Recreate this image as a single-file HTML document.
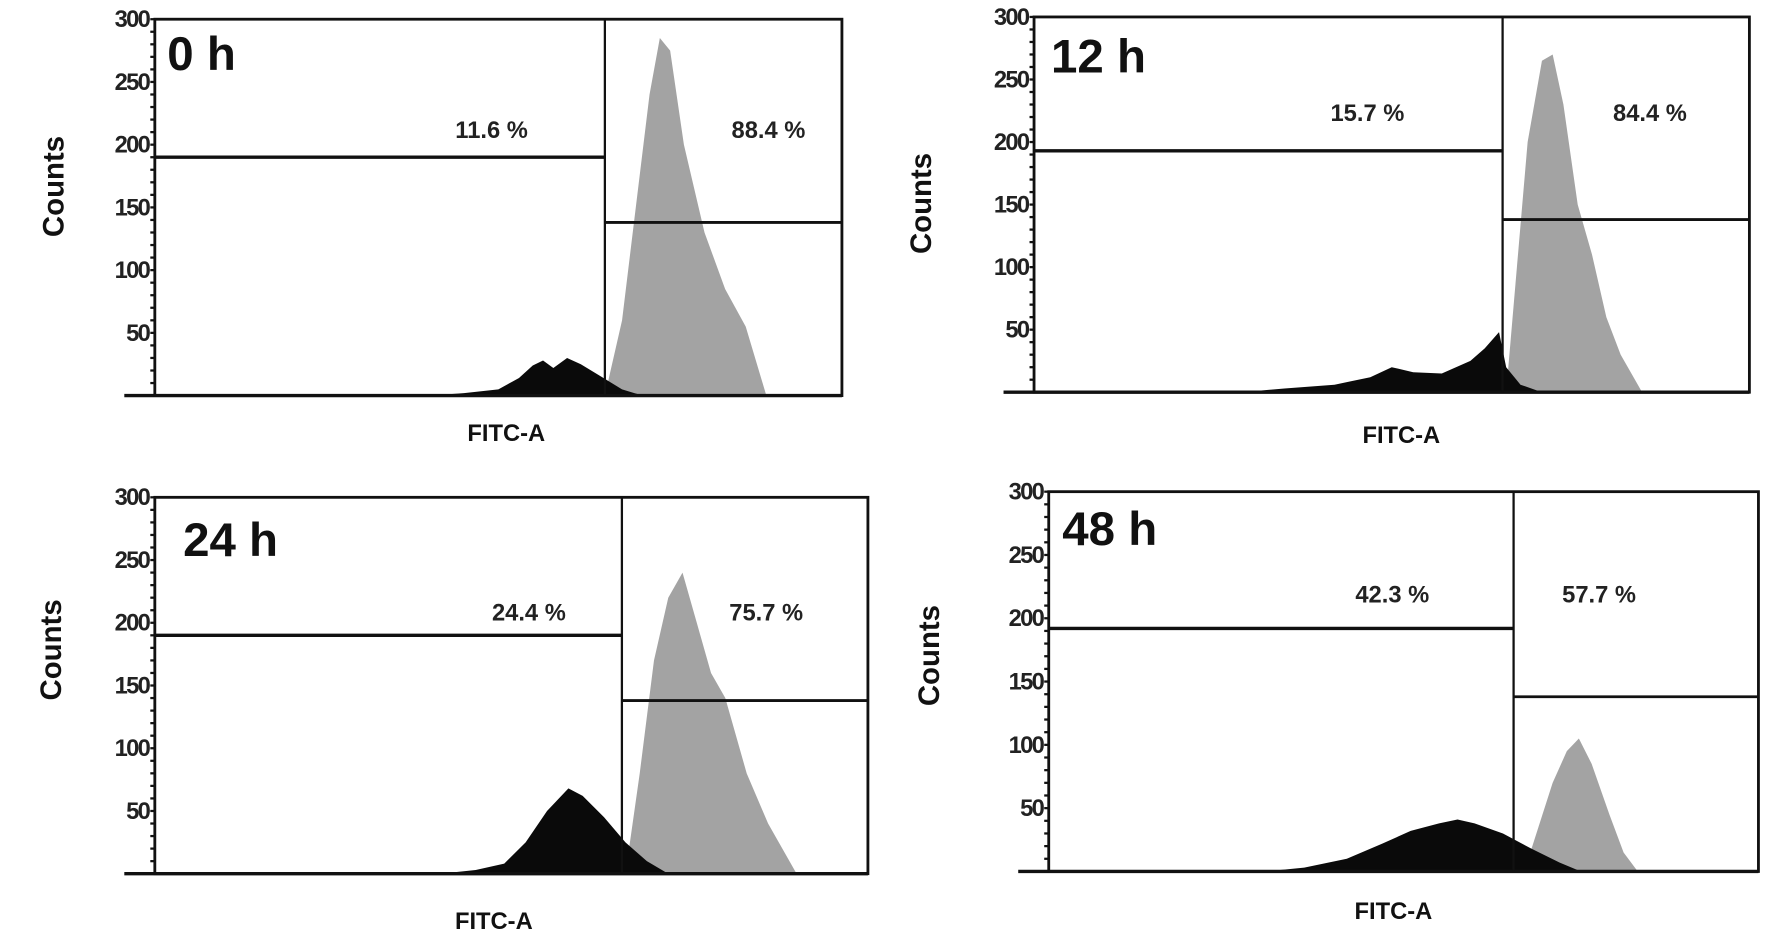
<!DOCTYPE html>
<html><head><meta charset="utf-8"><style>
html,body{margin:0;padding:0;background:#fff;}
svg{display:block;font-family:"Liberation Sans",Arial,sans-serif;font-weight:bold;}
</style></head><body>
<svg id="fig" width="1772" height="937" viewBox="0 0 1568 829" preserveAspectRatio="none" xmlns="http://www.w3.org/2000/svg"></svg>
<script>
const panelTitles = ["0 h","12 h","24 h","48 h"];
const leftPct = ["11.6 %","15.7 %","24.4 %","42.3 %"];
const rightPct = ["88.4 %","84.4 %","75.7 %","57.7 %"];
const yTicks = [50,100,150,200,250,300];
const gateX = [65.5,65.5,65.5,65.5];
const leftGateY = [190,193,190,192];
const rightGateY = [138,138,138,138];
const black0 = [[40,0],[45,2],[50,5],[53,14],[55,24],[56.5,28],[58,22],[60,30],[62,25],[65,15],[68,5],[71,0]];
const gray0 = [[65.5,0],[68,60],[70,150],[72,240],[73.5,285],[75,275],[77,200],[80,130],[83,85],[86,55],[89,0]];
const black1 = [[29,0],[35,3],[42,6],[47,12],[50,20],[53,16],[57,15],[61,25],[63,35],[65,48],[66,20],[68,6],[71,0]];
const gray1 = [[66,0],[67.5,100],[69,200],[71,265],[72.5,270],[74,230],[76,150],[78,110],[80,60],[82,30],[85,0]];
const black2 = [[40,0],[45,3],[49,8],[52,25],[55,50],[58,68],[60,62],[63,45],[66,25],[69,10],[72,0]];
const gray2 = [[66,0],[68,80],[70,170],[72,220],[74,240],[76,200],[78,160],[80,140],[83,80],[86,40],[90,0]];
const black3 = [[30.5,0],[36,3],[42,10],[47,22],[51,32],[55,38],[57.6,41],[60,38],[64,30],[68,18],[72,7],[75,0]];
const gray3 = [[67,0],[69,35],[71,70],[73,95],[74.7,105],[76.5,85],[79,45],[81,15],[83,0]];
const blacks = [black0,black1,black2,black3];
const grays = [gray0,gray1,gray2,gray3];
const boxes = [
 {l:137,r:745,t:17,b:350,cx:47,cy:165,fx:448,fy:390,tx:148,ty:62,ly:115,lx:435,rx:680},
 {l:915,r:1548,t:15,b:347,cx:815,cy:180,fx:1240,fy:392,tx:930,ty:64,ly:100,lx:1210,rx:1460},
 {l:137,r:768,t:440,b:773,cx:45,cy:575,fx:437,fy:822,tx:162,ty:492,ly:542,lx:468,rx:678},
 {l:928,r:1556,t:435,b:771,cx:822,cy:580,fx:1233,fy:813,tx:940,ty:482,ly:526,lx:1232,rx:1415}
];
const NS="http://www.w3.org/2000/svg";
const svg=document.getElementById('fig');
function mk(tag,attrs,parent){const e=document.createElementNS(NS,tag);for(const k in attrs)e.setAttribute(k,attrs[k]);(parent||svg).appendChild(e);return e;}
boxes.forEach((B,i)=>{
 const g=mk('g',{});
 
 
 const X=v=>B.l+(B.r-B.l)*v/100;
 const Y=v=>B.b-(B.b-B.t)*v/300;
 const pathOf=arr=>{let d='M'+X(arr[0][0])+','+Y(0);arr.forEach(p=>d+=' L'+X(p[0])+','+Y(p[1]));d+=' L'+X(arr[arr.length-1][0])+','+Y(0)+' Z';return d;};
 const gp=mk('path',{d:pathOf(grays[i]),fill:'#a3a3a3'},g);
 
 
 const bp=mk('path',{d:pathOf(blacks[i]),fill:'#0a0a0a'},g);
 
 
 const box=mk('rect',{x:B.l,y:B.t,width:B.r-B.l,height:B.b-B.t,fill:'none',stroke:'#111','stroke-width':2.5},g);
 
 
 mk('line',{x1:B.l-27,x2:B.r,y1:B.b,y2:B.b,stroke:'#111','stroke-width':3},g);
 const gx=X(gateX[i]);
 const gl=mk('line',{x1:gx,x2:gx,y1:B.t,y2:B.b,stroke:'#111','stroke-width':2},g);
 
 
 const lg=mk('line',{x1:B.l,x2:gx,y1:Y(leftGateY[i]),y2:Y(leftGateY[i]),stroke:'#111','stroke-width':3},g);
 
 
 const rg=mk('line',{x1:gx,x2:B.r,y1:Y(rightGateY[i]),y2:Y(rightGateY[i]),stroke:'#111','stroke-width':2.5},g);
 
 
 for(let v=0;v<=300;v+=10){mk('line',{x1:B.l-4,x2:B.l,y1:Y(v),y2:Y(v),stroke:'#111','stroke-width':2},g);}
 yTicks.forEach(v=>{
  const t=mk('text',{x:B.l-5,y:Y(v)+7,'text-anchor':'end','font-size':21,fill:'#222','letter-spacing':-1.5},g);
  t.textContent=v;
  
  
 });
 const ct=mk('text',{x:B.cx,y:B.cy,'text-anchor':'middle','font-size':26,fill:'#111',transform:'rotate(-90 '+B.cx+' '+B.cy+')',dy:9},g);
 ct.textContent='Counts';
 
 
 const ft=mk('text',{x:B.fx,y:B.fy,'text-anchor':'middle','font-size':21,fill:'#111'},g);
 ft.textContent='FITC-A';
 
 
 const tt=mk('text',{x:B.tx,y:B.ty,'font-size':42,fill:'#111'},g);
 tt.textContent=panelTitles[i];
 
 
 const lt=mk('text',{x:B.lx,y:B.ly+7,'text-anchor':'middle','font-size':21,fill:'#222'},g);
 lt.textContent=leftPct[i];
 
 
 const rt=mk('text',{x:B.rx,y:B.ly+7,'text-anchor':'middle','font-size':21,fill:'#222'},g);
 rt.textContent=rightPct[i];
 
 
});
</script>
</body></html>
